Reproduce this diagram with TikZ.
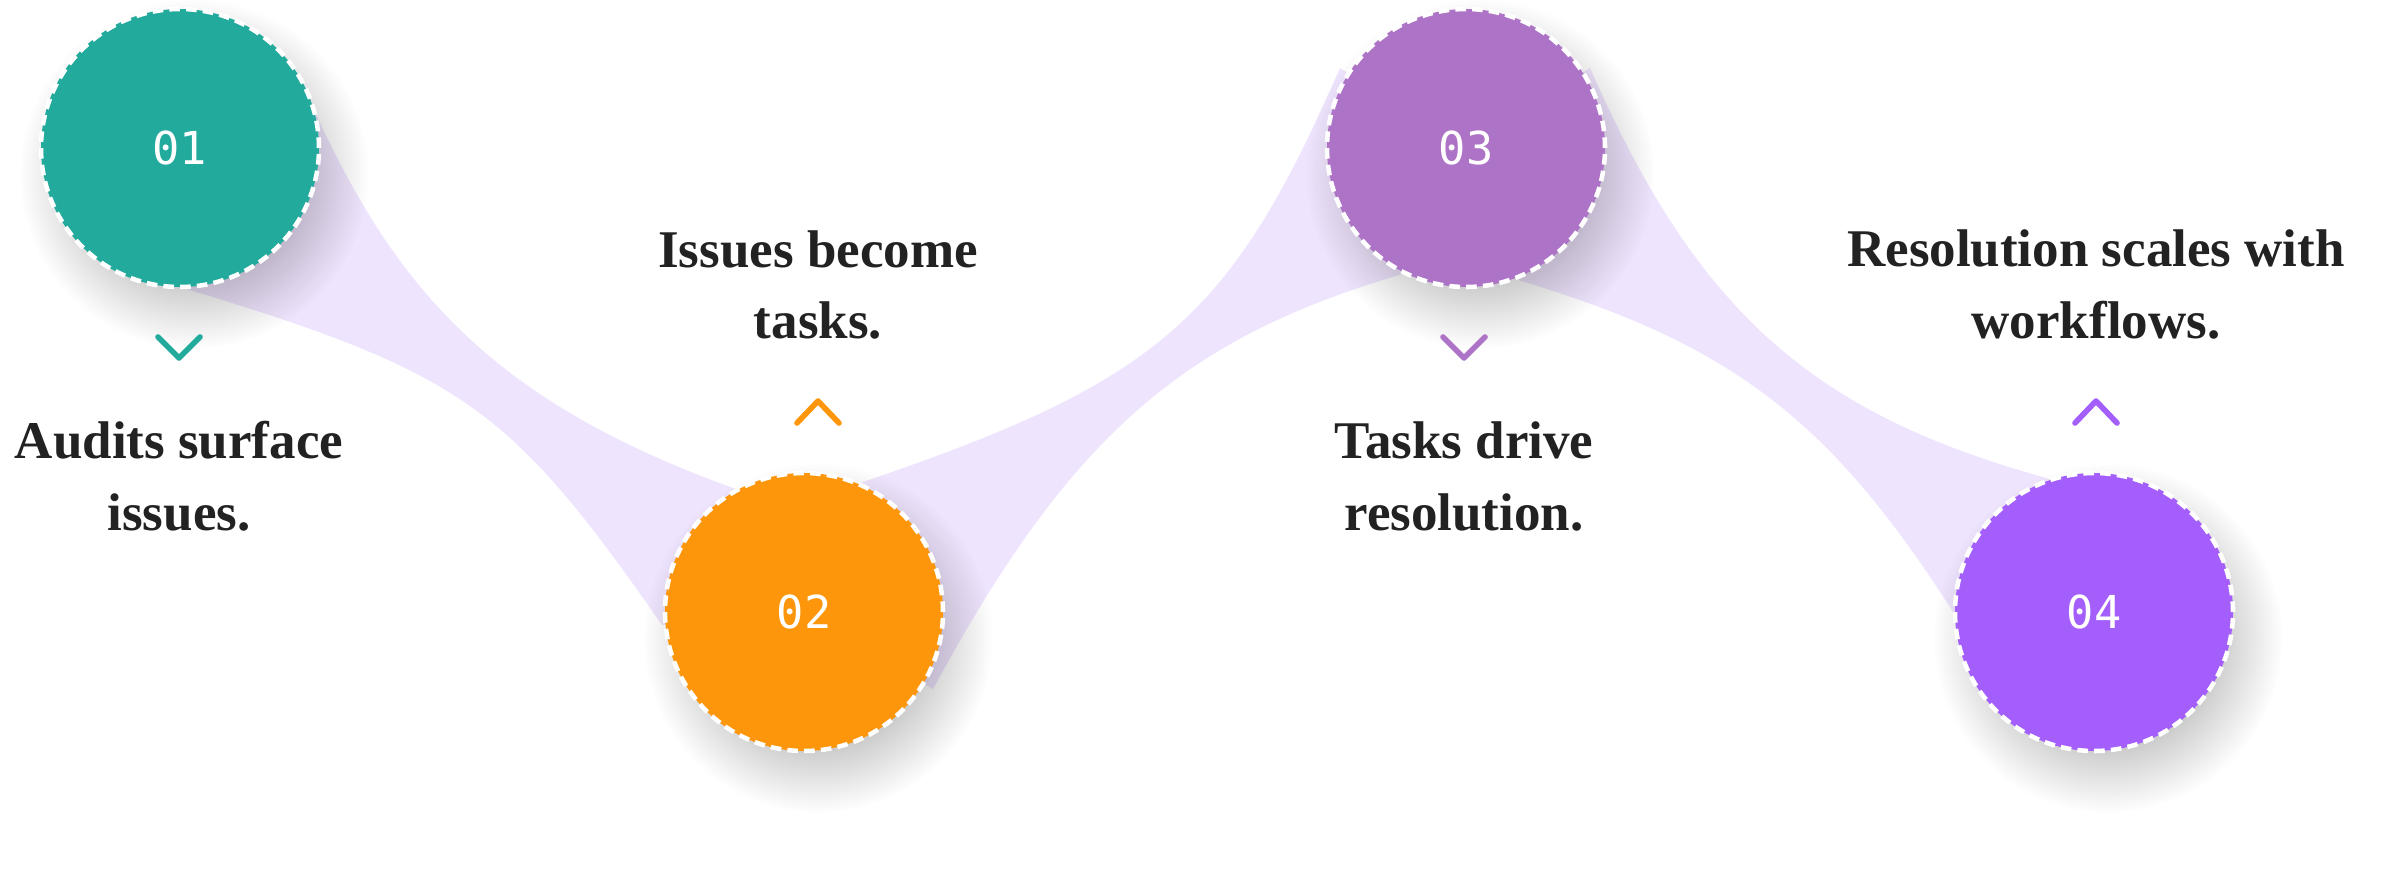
\documentclass[tikz,border=0pt]{standalone}
\usepackage{fontspec}
\setmainfont{Liberation Serif}
\newfontfamily\digitfont{DejaVu Sans Mono}
\usetikzlibrary{fadings,calc}
\definecolor{teal1}{HTML}{22AB9D}
\definecolor{orange2}{HTML}{FD960A}
\definecolor{purple3}{HTML}{AD73C6}
\definecolor{violet4}{HTML}{A45EFB}
\definecolor{ribbon}{HTML}{EFE4FD}
\definecolor{ink}{HTML}{222222}
\pgfdeclareradialshading{softshadowshading}{\pgfpointorigin}{color(0bp)=(pgftransparent!0); color(13bp)=(pgftransparent!0); color(25bp)=(pgftransparent!100); color(50bp)=(pgftransparent!100)}
\pgfdeclarefading{softshadow}{\pgfuseshading{softshadowshading}}
\begin{document}
\begin{tikzpicture}[x=0.75pt,y=-0.75pt,
  stepcircle/.style={circle, minimum size=208.5pt, inner sep=0pt, draw=white, line width=3.4pt, dash pattern=on 8pt off 4.6pt, font=\digitfont\fontsize{34}{34}\selectfont, text=white, text height=24.8pt, text depth=0pt},
  steptext/.style={font=\bfseries\fontsize{39.75}{54}\selectfont, text=ink, anchor=base, inner sep=0pt},
  chev/.style={line width=4.2pt, line cap=round, line join=round},
  band/.style={fill=ribbon},
  shadowdisc/.style={fill=black, opacity=0.26, path fading=softshadow},
]
\useasboundingbox (0,0) rectangle (2384,876);
\fill[white] (0,0) rectangle (2384,876);

\coordinate (p1) at (180,148);
\coordinate (p2) at (804,612);
\coordinate (p3) at (1466,148);
\coordinate (p4) at (2094,612);

% ribbons between steps
\fill[band] (p1) -- (315,112) .. controls (398,294) and (498,403) .. (733,488) -- (760,497) -- (p2) -- (662,625) .. controls (509,405) and (461,372) .. (180,287) -- cycle;
\fill[band] (p2) -- (860,483) .. controls (1158,382) and (1230,320) .. (1340,68) -- (p3) -- (1410,272) .. controls (1180,337) and (1068,440) .. (933,689) -- cycle;
\fill[band] (p3) -- (1590,68) .. controls (1696,309) and (1809,412) .. (2043,477) -- (2070,486) -- (p4) -- (1955,615) .. controls (1831,420) and (1732,344) .. (1518,280) -- cycle;

% shadows
\foreach \p in {p1,p2,p3,p4} \fill[shadowdisc] ($(\p)+(14,26)$) circle[radius=131pt];

% step circles
\node[stepcircle, fill=teal1] (c1) at (p1) {01};
\node[stepcircle, fill=orange2] (c2) at (p2) {02};
\node[stepcircle, fill=purple3] (c3) at (p3) {03};
\node[stepcircle, fill=violet4] (c4) at (p4) {04};

% chevrons
\draw[chev, teal1] (158,337) -- (179,358) -- (200,337);
\draw[chev, orange2] (797,423) -- (818,401) -- (839,423);
\draw[chev, purple3] (1443,337) -- (1464,358) -- (1485,337);
\draw[chev, violet4] (2075,423) -- (2096,401) -- (2117,423);

% labels
\node[steptext] (t1a) at (179,458) {Audits surface};
\node[steptext] (t1b) at (179,530) {issues.};
\node[steptext] (t2a) at (818,267) {Issues become};
\node[steptext] (t2b) at (818,338) {tasks.};
\node[steptext] (t3a) at (1464,458) {Tasks drive};
\node[steptext] (t3b) at (1464,530) {resolution.};
\node[steptext] (t4a) at (2096,266) {Resolution scales with};
\node[steptext] (t4b) at (2096,338) {workflows.};
\end{tikzpicture}
\end{document}
